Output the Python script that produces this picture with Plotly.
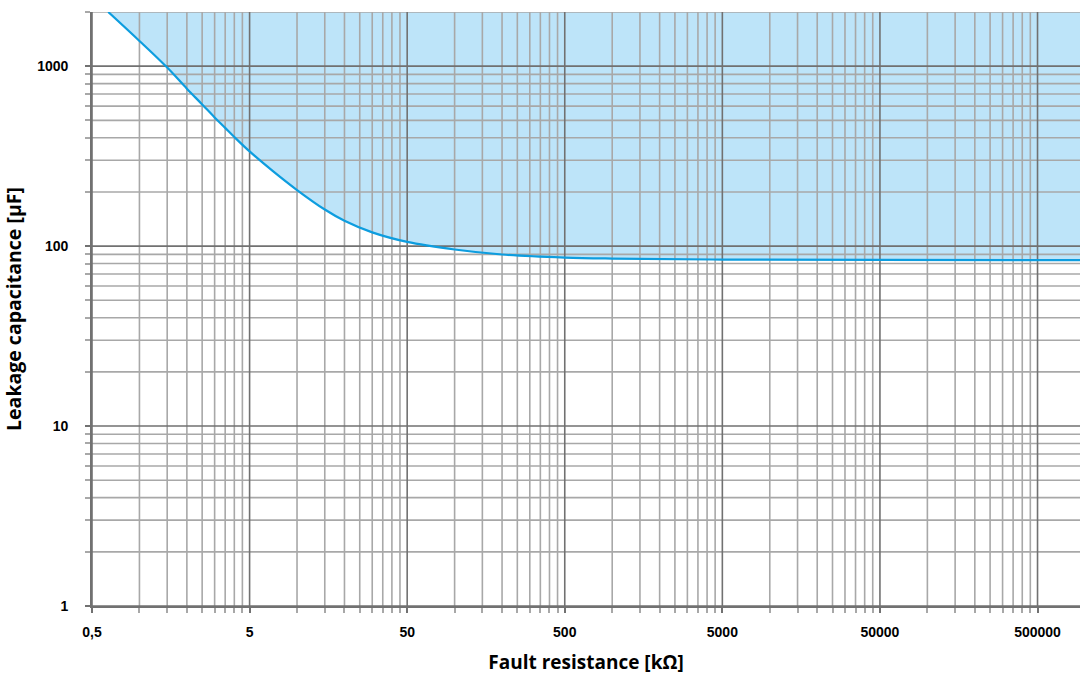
import math
import plotly.graph_objects as go

# ---- data ----
fault_resistance_kohm = [0.634, 1.0, 1.5, 2.0, 2.5, 3.0, 3.5, 4.0, 5.0, 7.0, 10, 15, 20, 30,
                         50, 100, 200, 500, 1000, 5000, 50000, 930000]
leakage_capacitance_uf = [2000, 1381, 982, 750, 613, 519, 454, 404, 336, 262, 205, 159.7, 138.3, 119.2,
                          105.5, 95.8, 89.8, 86.4, 85.3, 84.2, 83.8, 83.6]

x_major_ticks = [0.5, 5, 50, 500, 5000, 50000, 500000]
x_major_labels = ["0,5", "5", "50", "500", "5000", "50000", "500000"]
y_major_ticks = [1, 10, 100, 1000]
y_major_labels = ["1", "10", "100", "1000"]
minor_multipliers = [2, 3, 4, 5, 6, 7, 8, 9]

x_min, x_max = 0.5, 930000
y_min, y_max = 1, 2000

# minor grid positions (axis structure)
x_minor = [m * d for d in x_major_ticks for m in minor_multipliers if m * d <= x_max]
y_minor = [m * d for d in y_major_ticks for m in minor_multipliers if m * d <= y_max]

curve_color = "#0d9ddf"
fill_color = "#bde4f9"
minor_grid = "#a8a8a8"
major_grid = "#717171"


def vlines(vals):
    xs, ys = [], []
    for v in vals:
        xs += [v, v, None]
        ys += [y_min, y_max, None]
    return xs, ys


def hlines(vals):
    xs, ys = [], []
    for v in vals:
        xs += [x_min, x_max, None]
        ys += [v, v, None]
    return xs, ys


fig = go.Figure()

# upper boundary of the shaded region
fig.add_trace(go.Scatter(
    x=fault_resistance_kohm, y=[y_max] * len(fault_resistance_kohm),
    mode="lines", line=dict(width=0), hoverinfo="skip", showlegend=False))
# shaded region above the curve
fig.add_trace(go.Scatter(
    x=fault_resistance_kohm, y=leakage_capacitance_uf,
    mode="lines", line=dict(width=0, shape="spline", smoothing=1.0),
    fill="tonexty", fillcolor=fill_color, hoverinfo="skip", showlegend=False))

# grid lines (drawn above the fill)
for vals, fn, col, w in [(x_minor, vlines, minor_grid, 1.6), (y_minor, hlines, minor_grid, 1.6),
                         (x_major_ticks, vlines, major_grid, 1.6), (y_major_ticks, hlines, major_grid, 1.6)]:
    xs, ys = fn(vals)
    fig.add_trace(go.Scatter(x=xs, y=ys, mode="lines", line=dict(color=col, width=w),
                             hoverinfo="skip", showlegend=False))

# the curve itself
fig.add_trace(go.Scatter(
    x=fault_resistance_kohm, y=leakage_capacitance_uf,
    mode="lines", line=dict(color=curve_color, width=2.2, shape="spline", smoothing=1.0),
    showlegend=False))

tick_font = dict(family="Liberation Sans, Arial, sans-serif", size=14, color="#000000", weight="bold")
x_title_font = dict(family="Open Sans, sans-serif", size=19, color="#000000", weight="bold")
y_title_font = dict(family="Open Sans, sans-serif", size=19.5, color="#000000", weight="bold")

fig.update_layout(
    width=1080, height=675,
    margin=dict(l=92, r=0, t=12, b=69),
    paper_bgcolor="white", plot_bgcolor="white",
    showlegend=False,
    xaxis=dict(
        type="log", range=[math.log10(x_min), math.log10(x_max)],
        tickmode="array", tickvals=x_major_ticks, ticktext=x_major_labels,
        ticks="outside", ticklen=5, tickwidth=1.5, tickcolor=major_grid,
        tickfont=tick_font, ticklabelstandoff=7,
        showgrid=False, zeroline=False,
        showline=True, linecolor=major_grid, linewidth=1.6,
        minor=dict(tickmode="array", tickvals=x_minor, ticks="outside", ticklen=5,
                   tickwidth=1.5, tickcolor=minor_grid, showgrid=False),
        title=dict(text="Fault resistance [kΩ]", font=x_title_font, standoff=19),
        automargin=False,
    ),
    yaxis=dict(
        type="log", range=[0, math.log10(y_max)],
        tickmode="array", tickvals=y_major_ticks, ticktext=y_major_labels,
        ticks="outside", ticklen=5, tickwidth=1.5, tickcolor=major_grid,
        tickfont=tick_font, ticklabelstandoff=14,
        showgrid=False, zeroline=False,
        showline=True, linecolor=major_grid, linewidth=1.6,
        minor=dict(tickmode="array", tickvals=y_minor, ticks="outside", ticklen=5,
                   tickwidth=1.5, tickcolor=minor_grid, showgrid=False),
        title=dict(text="Leakage capacitance [µF]", font=y_title_font, standoff=15),
        automargin=False,
    ),
)

fig.write_html("out.html", config={"displayModeBar": False},
               post_script="document.body.style.margin='0';")
